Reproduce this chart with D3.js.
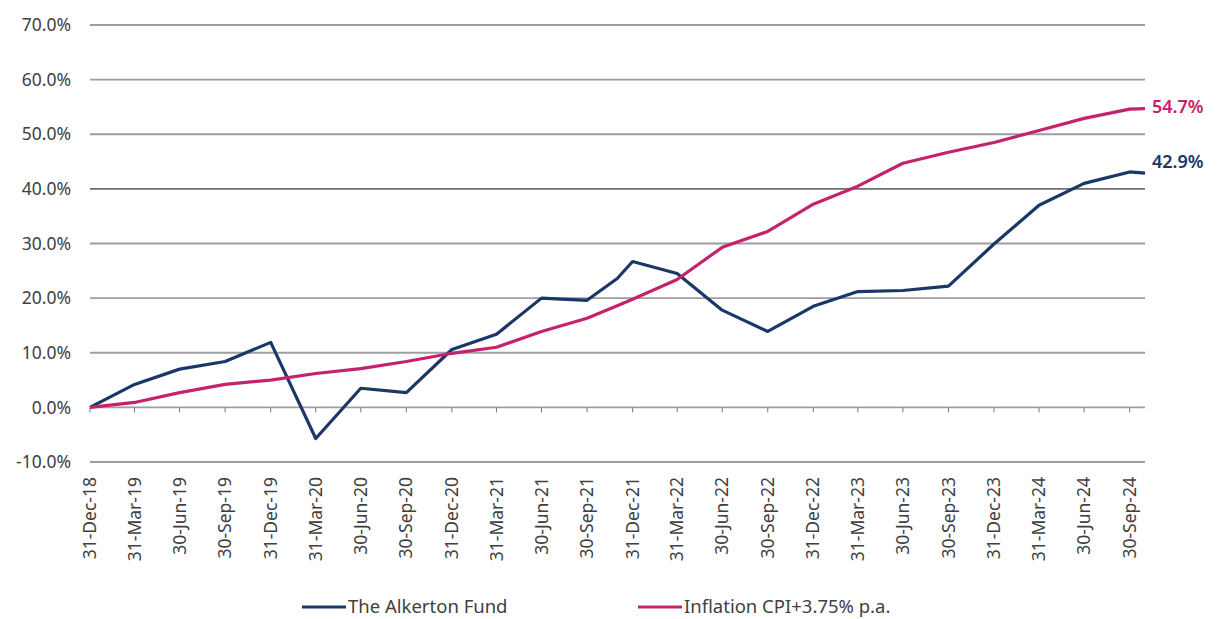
<!DOCTYPE html>
<html>
<head>
<meta charset="utf-8">
<script src="https://cdn.jsdelivr.net/npm/d3@7"></script>
<style>
  body { margin: 0; background: #fff; }
  text { font-family: "Noto Sans", "Open Sans", sans-serif; }
</style>
</head>
<body>
<div id="chart"></div>
<script>
// Quarter-end dates (plus the final month-end point)
const dates = ["2018-12-31", "2019-03-31", "2019-06-30", "2019-09-30", "2019-12-31",
  "2020-03-31", "2020-06-30", "2020-09-30", "2020-12-31", "2021-03-31", "2021-06-30",
  "2021-09-30", "2021-11-30", "2021-12-31", "2022-03-31", "2022-06-30", "2022-09-30",
  "2022-12-31", "2023-03-31", "2023-06-30", "2023-09-30", "2023-12-31", "2024-03-31",
  "2024-06-30", "2024-09-30", "2024-10-31"];

// Cumulative return (%)
const fund = [0, 4.2, 7.0, 8.4, 11.9, -5.7, 3.5, 2.7, 10.6, 13.4, 20.0, 19.6, 23.6, 26.7,
  24.5, 17.8, 13.9, 18.5, 21.2, 21.4, 22.2, 29.9, 37.0, 41.0, 43.1, 42.9];
const inflation = [0, 0.9, 2.7, 4.2, 5.0, 6.2, 7.1, 8.4, 9.9, 11.0, 13.9, 16.3, 18.6, 19.8,
  23.4, 29.3, 32.2, 37.2, 40.5, 44.7, 46.7, 48.5, 50.7, 52.9, 54.6, 54.7];

const tickDates = ["2018-12-31", "2019-03-31", "2019-06-30", "2019-09-30", "2019-12-31",
  "2020-03-31", "2020-06-30", "2020-09-30", "2020-12-31", "2021-03-31", "2021-06-30",
  "2021-09-30", "2021-12-31", "2022-03-31", "2022-06-30", "2022-09-30", "2022-12-31",
  "2023-03-31", "2023-06-30", "2023-09-30", "2023-12-31", "2024-03-31", "2024-06-30",
  "2024-09-30"];
const yTicks = [-10, 0, 10, 20, 30, 40, 50, 60, 70];

const seriesNames = ["The Alkerton Fund", "Inflation CPI+3.75% p.a."];
const endLabels = ["42.9%", "54.7%"];
const colors = ["#1b3767", "#c5226c"];

const W = 1219, H = 619;
const parse = d3.timeParse("%Y-%m-%d");
const fmtTick = d3.timeFormat("%d-%b-%y");

const svg = d3.select("#chart").append("svg")
  .attr("width", W)
  .attr("height", H);

// Scales
const x = d3.scaleTime()
  .domain([parse(dates[0]), parse(dates[dates.length - 1])])
  .range([90, 1145]);
const y = d3.scaleLinear()
  .domain([-10, 70])
  .range([462, 25]);

// Gridlines
svg.append("g")
  .selectAll("line")
  .data(yTicks)
  .join("line")
  .attr("x1", 90)
  .attr("x2", 1145)
  .attr("y1", d => y(d))
  .attr("y2", d => y(d))
  .attr("stroke", d => d === 40 ? "#6e6e6e" : "#9e9e9e")
  .attr("stroke-width", 1.8);

// Y axis labels
svg.append("g")
  .selectAll("text")
  .data(yTicks)
  .join("text")
  .attr("x", 71)
  .attr("y", d => y(d))
  .attr("dy", "0.35em")
  .attr("text-anchor", "end")
  .attr("font-size", 17.5)
  .attr("fill", "#404040")
  .text(d => d.toFixed(1) + "%");

// X axis ticks on zero line
svg.append("g")
  .selectAll("line")
  .data(tickDates)
  .join("line")
  .attr("x1", d => x(parse(d)))
  .attr("x2", d => x(parse(d)))
  .attr("y1", y(0))
  .attr("y2", y(0) + 5)
  .attr("stroke", "#7a7a7a")
  .attr("stroke-width", 1);

// X axis labels (rotated)
svg.append("g")
  .selectAll("text")
  .data(tickDates)
  .join("text")
  .attr("transform", d => `translate(${x(parse(d))},477) rotate(-90)`)
  .attr("dy", "0.35em")
  .attr("text-anchor", "end")
  .attr("font-size", 17.5)
  .attr("fill", "#404040")
  .text(d => fmtTick(parse(d)));

// Lines
const line = d3.line()
  .x((d, i) => x(parse(dates[i])))
  .y(d => y(d));

[fund, inflation].forEach((vals, k) => {
  svg.append("path")
    .datum(vals)
    .attr("fill", "none")
    .attr("stroke", colors[k])
    .attr("stroke-width", 3.2)
    .attr("stroke-linejoin", "round")
    .attr("d", line);

  // End value label
  svg.append("text")
    .attr("x", 1152)
    .attr("y", y(vals[vals.length - 1]) - (k === 0 ? 11 : 2))
    .attr("dy", "0.35em")
    .attr("font-size", 18)
    .attr("font-weight", 600)
    .attr("fill", colors[k])
    .text(endLabels[k]);
});

// Legend
const legX = [302, 638];
seriesNames.forEach((name, k) => {
  svg.append("line")
    .attr("x1", legX[k])
    .attr("x2", legX[k] + 44)
    .attr("y1", 607)
    .attr("y2", 607)
    .attr("stroke", colors[k])
    .attr("stroke-width", 3.2);
  svg.append("text")
    .attr("x", legX[k] + 46)
    .attr("y", 607)
    .attr("dy", "0.35em")
    .attr("font-size", 18.5)
    .attr("fill", "#404040")
    .text(name);
});
</script>
</body>
</html>
